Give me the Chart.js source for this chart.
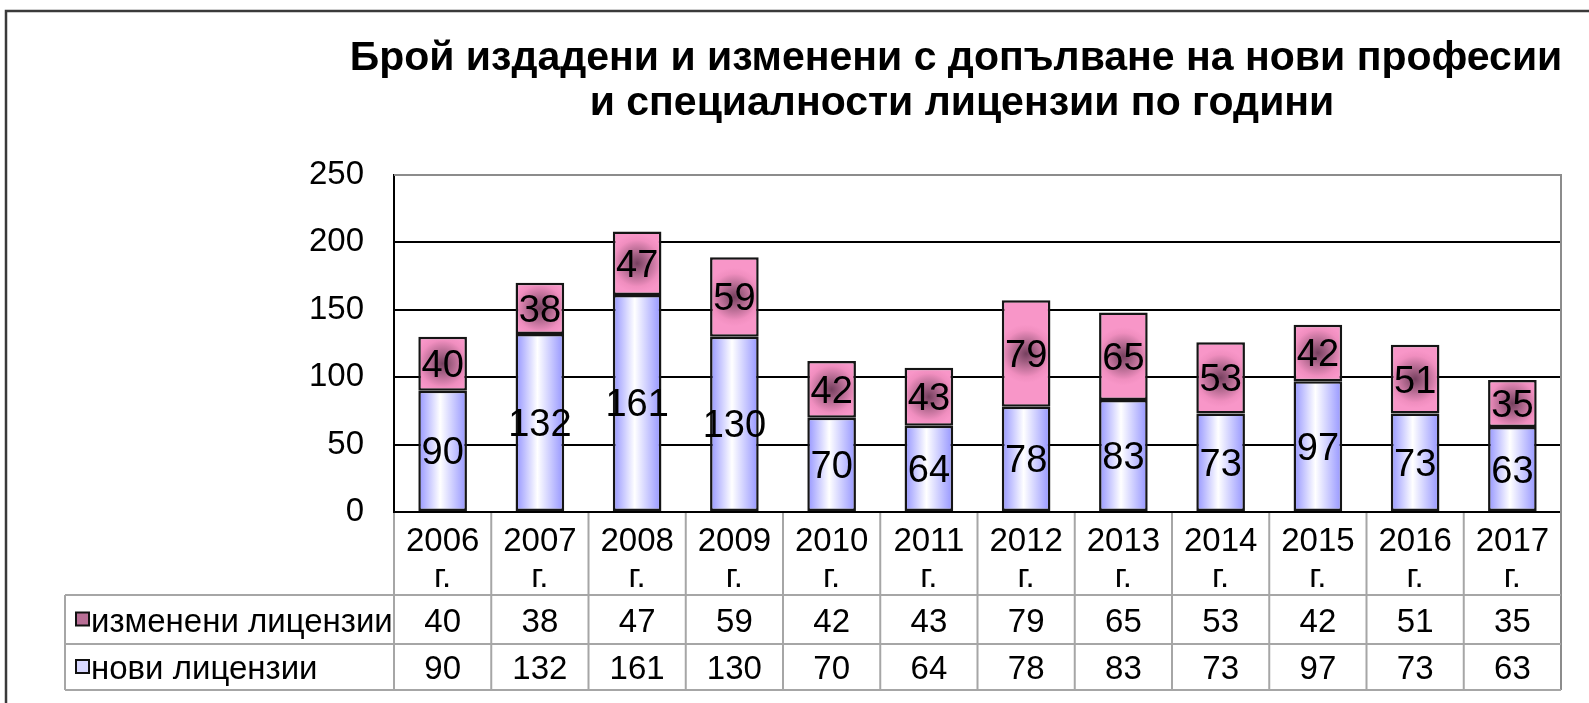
<!DOCTYPE html>
<html>
<head>
<meta charset="utf-8">
<script src="https://cdn.jsdelivr.net/npm/chart.js@4/dist/chart.umd.min.js"></script>
<style>
  html, body { margin: 0; padding: 0; background: #fff; }
  #wrap { width: 1589px; height: 703px; }
</style>
</head>
<body>
<div id="wrap"><canvas id="licChart" width="1589" height="703"></canvas></div>
<script>
// ── data ─────────────────────────────────────────────
var years = ["2006", "2007", "2008", "2009", "2010", "2011", "2012", "2013", "2014", "2015", "2016", "2017"];
var yearSuffix = "г.";
var newLicenses = [90, 132, 161, 130, 70, 64, 78, 83, 73, 97, 73, 63];
var changedLicenses = [40, 38, 47, 59, 42, 43, 79, 65, 53, 42, 51, 35];
var seriesNames = ["изменени лицензии", "нови лицензии"];
var yTicks = [0, 50, 100, 150, 200, 250];
var titleLines = ["Брой издадени и изменени с допълване на нови професии", "и специалности лицензии по години"];

var FONT = "'Liberation Sans', Arial, sans-serif";
var BAR_PCT = 0.5;

function barHalf(chart) {
  var a = chart.chartArea;
  return (a.right - a.left) / years.length * BAR_PCT / 2;
}

function blueFill(c) {
  var chart = c.chart;
  if (!chart.chartArea || c.type !== "data") return "#c8c8ff";
  var x = chart.scales.x.getPixelForValue(c.dataIndex);
  var h = barHalf(chart);
  var g = chart.ctx.createLinearGradient(x - h, 0, x + h, 0);
  g.addColorStop(0, "#9494ff");
  g.addColorStop(0.45, "#ffffff");
  g.addColorStop(1, "#9494ff");
  return g;
}

function pinkFill(c) {
  var chart = c.chart;
  if (!chart.chartArea || c.type !== "data") return "#f896c8";
  var i = c.dataIndex;
  var x = chart.scales.x.getPixelForValue(i);
  var y0 = chart.scales.y.getPixelForValue(newLicenses[i]);
  var y1 = chart.scales.y.getPixelForValue(newLicenses[i] + changedLicenses[i]);
  var cy = (y0 + y1) / 2;
  var r = barHalf(chart) * 1.2;
  var g = chart.ctx.createRadialGradient(x, cy, 0, x, cy, r);
  g.addColorStop(0, "#76405f");
  g.addColorStop(0.35, "#aa6489");
  g.addColorStop(0.8, "#f08ebf");
  g.addColorStop(1, "#f896c8");
  return g;
}

// ── title, frame, values and data table ──────────────
var decorPlugin = {
  id: "decor",
  afterDatasetsDraw: function(chart) {
    var ctx = chart.ctx;
    ctx.save();
    ctx.fillStyle = "#000";
    ctx.font = "38px " + FONT;
    ctx.textAlign = "center";
    ctx.textBaseline = "middle";
    chart.data.datasets.forEach(function(ds, di) {
      chart.getDatasetMeta(di).data.forEach(function(el, i) {
        var p = el.getProps(["x", "y", "base"], true);
        ctx.fillText(String(ds.data[i]), p.x, (p.y + p.base) / 2 + 3);
      });
    });
    ctx.restore();
  },
  afterDraw: function(chart) {
    var ctx = chart.ctx;
    var a = chart.chartArea;
    var colW = (a.right - a.left) / years.length;
    var tableLeft = 65, row1 = 595, row2 = 644, row3 = 690;

    ctx.save();
    // outer frame
    ctx.strokeStyle = "#3a3a3a";
    ctx.lineWidth = 2.5;
    ctx.beginPath();
    ctx.moveTo(6, 703); ctx.lineTo(6, 11); ctx.lineTo(1589, 11);
    ctx.stroke();

    // title
    ctx.fillStyle = "#000";
    ctx.textAlign = "center";
    ctx.textBaseline = "alphabetic";
    ctx.font = "bold 41px " + FONT;
    ctx.fillText(titleLines[0], 956, 70);
    ctx.fillText(titleLines[1], 962, 115);

    // plot border top/right
    ctx.strokeStyle = "#8c8c8c";
    ctx.lineWidth = 2;
    ctx.beginPath();
    ctx.moveTo(a.left, a.top); ctx.lineTo(a.right, a.top); ctx.lineTo(a.right, row3);
    ctx.stroke();

    // table grid
    ctx.strokeStyle = "#a6a6a6";
    ctx.beginPath();
    ctx.moveTo(tableLeft, row1); ctx.lineTo(a.right, row1);
    ctx.moveTo(tableLeft, row2); ctx.lineTo(a.right, row2);
    ctx.moveTo(tableLeft, row3); ctx.lineTo(a.right, row3);
    ctx.moveTo(tableLeft, row1); ctx.lineTo(tableLeft, row3);
    for (var i = 0; i < years.length; i++) {
      var xl = a.left + i * colW;
      ctx.moveTo(xl, a.bottom + 1); ctx.lineTo(xl, row3);
    }
    ctx.stroke();

    // category labels + values
    ctx.font = "33px " + FONT;
    ctx.fillStyle = "#000";
    ctx.textAlign = "center";
    for (var j = 0; j < years.length; j++) {
      var xc = chart.scales.x.getPixelForValue(j);
      ctx.textBaseline = "alphabetic";
      ctx.fillText(years[j], xc, 551);
      ctx.fillText(yearSuffix, xc, 587);
      ctx.textBaseline = "middle";
      ctx.fillText(String(changedLicenses[j]), xc, (row1 + row2) / 2 + 3);
      ctx.fillText(String(newLicenses[j]), xc, (row2 + row3) / 2 + 3);
    }

    // series labels with legend keys
    ctx.textAlign = "left";
    ctx.textBaseline = "middle";
    var keys = [
      { y: (row1 + row2) / 2, fill: "#b86e95" },
      { y: (row2 + row3) / 2, fill: "#d8d8ff" }
    ];
    keys.forEach(function(k, n) {
      ctx.fillStyle = k.fill;
      ctx.fillRect(76, k.y - 7, 13, 13);
      ctx.strokeStyle = "#111";
      ctx.lineWidth = 2;
      ctx.strokeRect(76, k.y - 7, 13, 13);
      ctx.fillStyle = "#000";
      ctx.fillText(seriesNames[n], 91, k.y + 3);
    });
    ctx.restore();
  }
};

new Chart(document.getElementById("licChart"), {
  type: "bar",
  data: {
    labels: years,
    datasets: [{
      label: seriesNames[1],
      data: newLicenses,
      backgroundColor: blueFill,
      borderColor: "#151515",
      borderWidth: 2.5,
      borderSkipped: false
    }, {
      label: seriesNames[0],
      data: changedLicenses,
      backgroundColor: pinkFill,
      borderColor: "#151515",
      borderWidth: 2.5,
      borderSkipped: false
    }]
  },
  options: {
    responsive: false,
    animation: false,
    barPercentage: BAR_PCT,
    categoryPercentage: 1.0,
    layout: { padding: { top: 175, right: 28, bottom: 191, left: 0 } },
    plugins: {
      legend: { display: false },
      title: { display: false },
      tooltip: { enabled: false }
    },
    scales: {
      x: { stacked: true, display: false },
      y: {
        stacked: true,
        min: 0,
        max: 250,
        afterFit: function(scale) { scale.width = 394; },
        afterBuildTicks: function(scale) {
          scale.ticks = yTicks.map(function(v) { return { value: v }; });
        },
        border: { display: true, color: "#000", width: 2 },
        grid: {
          drawTicks: false,
          color: function(c) { return c.tick && c.tick.value === 250 ? "#8c8c8c" : "#000"; },
          lineWidth: 2
        },
        ticks: {
          padding: 30,
          color: "#000",
          font: { family: FONT, size: 33 }
        }
      }
    }
  },
  plugins: [decorPlugin]
});
</script>
</body>
</html>
